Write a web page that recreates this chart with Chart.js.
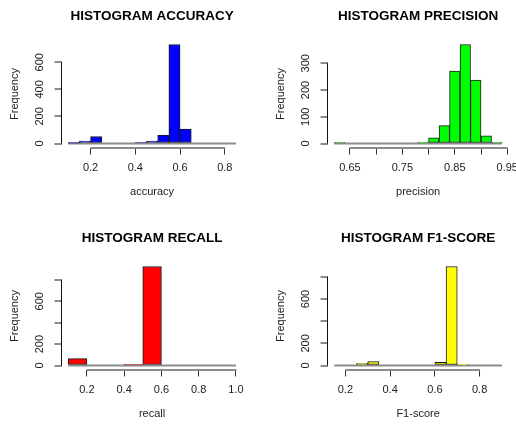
<!DOCTYPE html>
<html>
<head>
<meta charset="utf-8">
<script src="https://cdn.jsdelivr.net/npm/chart.js@4/dist/chart.umd.min.js"></script>
<style>
  body { margin: 0; background: #fff; }
  #wrap { position: relative; width: 516px; height: 426px; overflow: hidden; }
  canvas { position: absolute; }
</style>
</head>
<body>
<div id="wrap">
  <canvas id="accChart"  width="250" height="204" style="left:0;top:0"></canvas>
  <canvas id="precChart" width="250" height="204" style="left:266px;top:0"></canvas>
  <canvas id="recChart"  width="250" height="204" style="left:0;top:222px"></canvas>
  <canvas id="f1Chart"   width="250" height="204" style="left:266px;top:222px"></canvas>
</div>
<script>
// histogram bins
const accBreaks = [0.10, 0.15, 0.20, 0.25, 0.30, 0.35, 0.40, 0.45, 0.50, 0.55, 0.60, 0.65, 0.70, 0.75, 0.80, 0.85];
const accCounts = [3, 18, 52, 0, 0, 0, 8, 18, 62, 731, 107, 0, 0, 0, 0];
const accXTicks = [0.2, 0.4, 0.6, 0.8];
const accXLabels = ['0.2', '0.4', '0.6', '0.8'];
const accYTicks = [0, 200, 400, 600];
const accYLabels = ['0', '200', '400', '600'];

const precBreaks = [0.62, 0.64, 0.66, 0.68, 0.70, 0.72, 0.74, 0.76, 0.78, 0.80, 0.82, 0.84, 0.86, 0.88, 0.90, 0.92, 0.94];
const precCounts = [2, 0, 0, 0, 0, 0, 0, 0, 5, 21, 67, 271, 370, 237, 29, 2];
const precXTicks = [0.65, 0.70, 0.75, 0.80, 0.85, 0.90, 0.95];
const precXLabels = ['0.65', '', '0.75', '', '0.85', '', '0.95'];
const precYTicks = [0, 100, 200, 300];
const precYLabels = ['0', '100', '200', '300'];

const recBreaks = [0.1, 0.2, 0.3, 0.4, 0.5, 0.6, 0.7, 0.8, 0.9, 1.0];
const recCounts = [65, 0, 0, 5, 924, 0, 0, 0, 0];
const recXTicks = [0.2, 0.4, 0.6, 0.8, 1.0];
const recXLabels = ['0.2', '0.4', '0.6', '0.8', '1.0'];
const recYTicks = [0, 200, 400, 600, 800];
const recYLabels = ['0', '200', '', '600', ''];

const f1Breaks = [0.15, 0.20, 0.25, 0.30, 0.35, 0.40, 0.45, 0.50, 0.55, 0.60, 0.65, 0.70, 0.75, 0.80, 0.85, 0.90];
const f1Counts = [0, 0, 21, 36, 0, 0, 0, 0, 0, 30, 894, 12, 0, 0, 0];
const f1XTicks = [0.2, 0.4, 0.6, 0.8];
const f1XLabels = ['0.2', '0.4', '0.6', '0.8'];
const f1YTicks = [0, 200, 400, 600, 800];
const f1YLabels = ['0', '200', '', '600', ''];

const family = '"Liberation Sans", Arial, sans-serif';
const font = { family, size: 11 };

// R draws axis lines only from the first to the last tick
const rAxisLines = {
  id: 'rAxisLines',
  afterDraw(chart) {
    const { ctx, chartArea: a, scales: { x, y } } = chart;
    const xt = x.ticks, yt = y.ticks;
    ctx.save();
    ctx.lineWidth = 2;
    ctx.strokeStyle = '#8c8c8c';
    ctx.beginPath();
    const by = Math.round(a.bottom);
    ctx.moveTo(x.getPixelForValue(xt[0].value), by);
    ctx.lineTo(x.getPixelForValue(xt[xt.length - 1].value) + 0.5, by);
    ctx.stroke();
    ctx.lineWidth = 1;
    ctx.strokeStyle = '#111';
    ctx.beginPath();
    ctx.moveTo(a.left, y.getPixelForValue(yt[0].value));
    ctx.lineTo(a.left, y.getPixelForValue(yt[yt.length - 1].value));
    ctx.stroke();
    ctx.restore();
  },
};

function makeHist(id, cfg) {
  const n = cfg.breaks.length - 1;
  const span = cfg.breaks[n] - cfg.breaks[0];
  const top = Math.max(...cfg.counts);
  new Chart(document.getElementById(id), {
    type: 'bar',
    data: {
      datasets: [
        {
          type: 'bar',
          data: cfg.counts.map((c, i) => ({ x: (cfg.breaks[i] + cfg.breaks[i + 1]) / 2, y: c })),
          backgroundColor: cfg.color,
          borderColor: '#1a1a1a',
          borderWidth: 1,
          borderSkipped: false,
          barPercentage: 1,
          categoryPercentage: 1,
          order: 1,
        },
        {
          type: 'line',
          data: [{ x: cfg.breaks[0], y: 0 }, { x: cfg.breaks[n], y: 0 }],
          borderColor: '#8c8c8c',
          borderWidth: 2,
          pointRadius: 0,
          order: 2,
        },
      ],
    },
    options: {
      responsive: false,
      animation: false,
      layout: { padding: { left: 0, top: 0, right: 7.3, bottom: 0 } },
      plugins: {
        legend: { display: false },
        tooltip: { enabled: false },
        title: {
          display: true, text: cfg.title, fullSize: false, color: '#000',
          font: { family, size: 13.5, weight: 'bold' },
          padding: { top: 8.6, bottom: 15.7 },
        },
      },
      scales: {
        x: {
          type: 'linear',
          min: cfg.breaks[0] - 0.04 * span,
          max: cfg.breaks[n] + 0.04 * span,
          offset: false,
          afterBuildTicks: s => { s.ticks = cfg.xTicks.map(v => ({ value: v })); },
          afterFit: s => { s.height = 56.5; s.paddingLeft = 0; s.paddingRight = 0; },
          grid: { offset: false, drawOnChartArea: false, drawTicks: true, tickLength: 7, color: '#333', lineWidth: 1 },
          border: { display: false },
          ticks: { autoSkip: false, maxRotation: 0, padding: 7, color: '#222', font, callback: (v, i) => cfg.xLabels[i] },
          title: { display: true, text: cfg.name, color: '#222', font, padding: { top: 0, bottom: 5 } },
        },
        y: {
          type: 'linear',
          min: -0.04 * top,
          max: 1.04 * top,
          afterBuildTicks: s => { s.ticks = cfg.yTicks.map(v => ({ value: v })); },
          afterFit: s => { s.width = 61.5; s.paddingTop = 0; s.paddingBottom = 0; },
          grid: { drawOnChartArea: false, drawTicks: true, tickLength: 7, color: '#8c8c8c', lineWidth: 2 },
          border: { display: false },
          ticks: {
            autoSkip: false, minRotation: 90, maxRotation: 90, crossAlign: 'center', padding: 5,
            color: '#222', font, callback: (v, i) => cfg.yLabels[i],
          },
          title: { display: true, text: 'Frequency', color: '#222', font, padding: { top: 8.4, bottom: 0 } },
        },
      },
    },
    plugins: [rAxisLines],
  });
}

makeHist('accChart', {
  title: 'HISTOGRAM ACCURACY', name: 'accuracy', color: '#0000ff',
  breaks: accBreaks, counts: accCounts,
  xTicks: accXTicks, xLabels: accXLabels, yTicks: accYTicks, yLabels: accYLabels,
});
makeHist('precChart', {
  title: 'HISTOGRAM PRECISION', name: 'precision', color: '#00ff00',
  breaks: precBreaks, counts: precCounts,
  xTicks: precXTicks, xLabels: precXLabels, yTicks: precYTicks, yLabels: precYLabels,
});
makeHist('recChart', {
  title: 'HISTOGRAM RECALL', name: 'recall', color: '#ff0000',
  breaks: recBreaks, counts: recCounts,
  xTicks: recXTicks, xLabels: recXLabels, yTicks: recYTicks, yLabels: recYLabels,
});
makeHist('f1Chart', {
  title: 'HISTOGRAM F1-SCORE', name: 'F1-score', color: '#ffff00',
  breaks: f1Breaks, counts: f1Counts,
  xTicks: f1XTicks, xLabels: f1XLabels, yTicks: f1YTicks, yLabels: f1YLabels,
});
</script>
</body>
</html>
